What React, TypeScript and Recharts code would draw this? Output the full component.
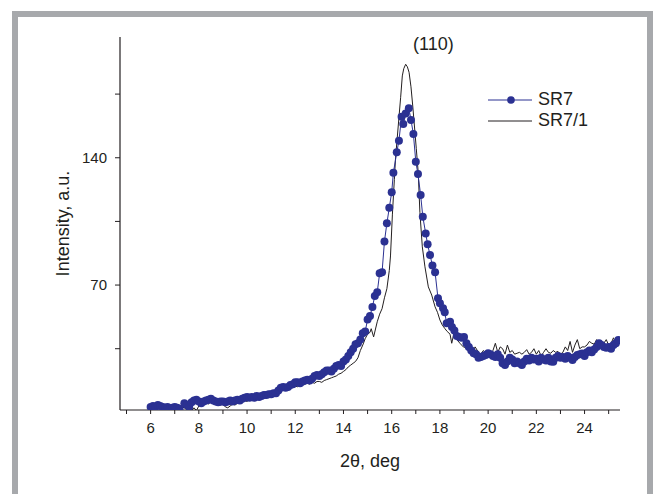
import { LineChart, Line, XAxis, YAxis } from 'recharts'

// SR7 – measured points (2θ, intensity)
const SR7_X = [
  6.0, 6.1, 6.2, 6.3, 6.4, 6.5, 6.6, 6.7, 6.8, 6.9, 7.0, 7.1, 7.2, 7.4, 7.5, 7.6, 7.7, 7.8, 7.9, 8.0,
  8.1, 8.2, 8.3, 8.4, 8.5, 8.6, 8.7, 8.8, 8.9, 9.0, 9.1, 9.2, 9.3, 9.4, 9.5, 9.6, 9.7, 9.8, 9.9, 10.0,
  10.1, 10.2, 10.3, 10.4, 10.5, 10.6, 10.7, 10.8, 10.9, 11.0, 11.1, 11.2, 11.3, 11.4, 11.5, 11.6, 11.7, 11.8, 11.9, 12.0,
  12.1, 12.2, 12.3, 12.4, 12.5, 12.6, 12.7, 12.8, 12.9, 13.0, 13.1, 13.2, 13.3, 13.4, 13.5, 13.6, 13.7, 13.8, 13.9, 14.0,
  14.1, 14.2, 14.3, 14.4, 14.5, 14.6, 14.7, 14.8, 14.9, 15.0, 15.1, 15.2, 15.3, 15.4, 15.5, 15.6, 15.7, 15.8, 15.9, 16.0,
  16.07, 16.21, 16.3, 16.41, 16.48, 16.58, 16.71, 16.8, 16.9, 17.0, 17.09, 17.2, 17.29, 17.41, 17.49, 17.59, 17.69, 17.8, 17.92, 18.0,
  18.13, 18.2, 18.28, 18.42, 18.5, 18.6, 18.7, 18.8, 18.9, 19.0, 19.1, 19.2, 19.3, 19.4, 19.5, 19.6, 19.7, 19.8, 19.9, 20.0,
  20.1, 20.2, 20.3, 20.4, 20.5, 20.6, 20.7, 20.8, 20.9, 21.0, 21.1, 21.2, 21.3, 21.4, 21.5, 21.6, 21.7, 21.8, 21.9, 22.0,
  22.1, 22.2, 22.3, 22.4, 22.5, 22.6, 22.7, 22.8, 22.9, 23.0, 23.1, 23.2, 23.3, 23.4, 23.5, 23.6, 23.7, 23.8, 23.9, 24.0,
  24.1, 24.2, 24.3, 24.4, 24.5, 24.6, 24.7, 24.8, 24.9, 25.0, 25.1, 25.2, 25.3, 25.4,
]
const SR7_Y = [
  3, 3.5, 3, 4, 3.5, 3, 2.5, 3, 2, 2.5, 3, 2.5, 2, 5, 4, 3, 5.5, 6.5, 7, 6,
  5, 6, 6.5, 7, 7.5, 6.5, 6, 5.5, 6, 6, 5.5, 6, 6.5, 6, 6.5, 7, 6.5, 7.5, 8, 8.5,
  8, 8.5, 8, 9, 8.5, 9, 9.5, 9.5, 10, 10, 10.5, 10.5, 12, 13.5, 14, 13.5, 14, 15, 15.5, 16.5,
  16.5, 16, 17, 17.5, 18, 17.5, 18.5, 20, 20.5, 20, 21, 22, 23, 23, 22.5, 24, 25.5, 26, 25.5, 28,
  29, 31, 33, 35, 37.5, 38, 40, 43.5, 44.5, 51, 53, 58, 64, 66, 76.5, 77, 94, 104, 112.5, 121,
  131.8, 143, 149.4, 162.6, 158.6, 164.4, 167.2, 160.8, 153, 137.8, 131, 119.5, 107.6, 98.4, 92.4, 86.5, 80.8, 77, 62.7, 60,
  57.3, 55, 49, 49.8, 47, 45, 42, 41.5, 41, 41.5, 38, 36, 34, 32.5, 32, 30, 30.5, 31, 31.5, 32.5,
  32, 31, 30.5, 32, 30, 27, 26, 28, 30, 29, 27, 28, 27, 26, 28, 29.5, 28.5, 30, 29, 29.5,
  28, 30, 29, 28.5, 30, 28, 27.8, 30, 31, 30, 30.5, 29.5, 31, 30, 28.8, 30.5, 31.5, 32, 32.4, 31,
  33, 34, 33, 34.5, 36, 38, 37, 36, 35.5, 36, 35, 37, 38, 39.8,
]

// SR7/1 – continuous trace
const SR71_X = [
  6.0, 6.1, 6.2, 6.3, 6.4, 6.5, 6.6, 6.7, 6.8, 6.9, 7.0, 7.1, 7.2, 7.3, 7.4, 7.5, 7.6, 7.7, 7.8, 7.9,
  8.0, 8.1, 8.2, 8.3, 8.4, 8.5, 8.6, 8.7, 8.8, 8.9, 9.0, 9.1, 9.2, 9.3, 9.4, 9.5, 9.6, 9.7, 9.8, 9.9,
  10.0, 10.1, 10.2, 10.3, 10.4, 10.5, 10.6, 10.7, 10.8, 10.9, 11.0, 11.1, 11.2, 11.3, 11.4, 11.5, 11.6, 11.7, 11.8, 11.9,
  12.0, 12.1, 12.2, 12.3, 12.4, 12.5, 12.6, 12.7, 12.8, 12.9, 13.0, 13.1, 13.2, 13.3, 13.4, 13.5, 13.6, 13.7, 13.8, 13.9,
  14.0, 14.1, 14.2, 14.3, 14.4, 14.5, 14.6, 14.7, 14.8, 14.9, 15.0, 15.1, 15.15, 15.25, 15.4, 15.5, 15.6, 15.7, 15.8, 15.9,
  15.95, 16.03, 16.11, 16.16, 16.23, 16.3, 16.37, 16.44, 16.5, 16.58, 16.65, 16.72, 16.8, 16.87, 16.94, 17.02, 17.1, 17.17, 17.27, 17.38,
  17.52, 17.66, 17.8, 17.9, 18.0, 18.1, 18.21, 18.3, 18.42, 18.49, 18.58, 18.7, 18.83, 18.97, 19.1, 19.25, 19.35, 19.46, 19.6, 19.7,
  19.8, 19.9, 20.0, 20.1, 20.2, 20.3, 20.4, 20.5, 20.6, 20.7, 20.8, 20.9, 21.0, 21.1, 21.2, 21.3, 21.4, 21.5, 21.6, 21.7,
  21.8, 21.9, 22.0, 22.1, 22.2, 22.3, 22.4, 22.5, 22.6, 22.7, 22.8, 22.9, 23.0, 23.1, 23.2, 23.3, 23.4, 23.5, 23.6, 23.7,
  23.8, 23.9, 24.0, 24.1, 24.2, 24.3, 24.4, 24.5, 24.6, 24.7, 24.8, 24.9, 25.0, 25.1, 25.2, 25.3, 25.45,
]
const SR71_Y = [
  1.5, 2.5, 2, 3, 2, 1.5, 3, 2, 1, 2.5, 3, 1.5, 2, 3, 2.5, 1.5, 4, 1, 2.5, 1,
  3.5, 5, 4, 5.5, 4.5, 6, 5.5, 6.5, 5, 4, 4.5, 3, 2.5, 3.5, 4.5, 4, 5, 5.5, 6, 6.5,
  6, 7, 7.5, 7, 8, 8.5, 10, 10.5, 9.5, 9, 8.5, 9, 11, 12, 12.5, 12, 13, 12.5, 13.5, 14,
  14.5, 14, 15.5, 15, 15.5, 16, 15.5, 16.5, 16, 17, 17, 16.5, 17.5, 18, 18.5, 19, 19.5, 20, 21, 21.5,
  22.5, 23.5, 25, 26, 27, 28, 30, 34, 37, 40.5, 43, 44, 46, 41.5, 49.8, 54, 57, 63, 68, 78,
  86, 109, 128, 140, 151, 162, 173, 185, 189, 191.4, 190, 187, 179, 169, 158, 145, 132, 110, 91, 80,
  69, 64.5, 58, 55, 50.8, 48, 46, 44.5, 43, 38, 43.4, 40, 38, 36, 35.5, 34.3, 33, 36, 33, 32,
  34, 33, 33.5, 32, 34, 38, 33, 36, 35, 32, 37, 33, 34, 32, 32.5, 33, 32, 33, 34.5, 32,
  33, 35, 32, 34, 31, 33, 35, 33, 32.5, 34, 33, 33.5, 32, 33, 36, 34, 39, 33, 37, 40,
  35, 36, 36, 37, 39, 38, 37.5, 40, 38, 39, 38, 40, 37, 38, 41, 38, 41,
]

const X_TICKS = [5, 6, 7, 8, 9, 10, 11, 12, 13, 14, 15, 16, 17, 18, 19, 20, 21, 22, 23, 24, 25]
const X_LABELS = [6, 8, 10, 12, 14, 16, 18, 20, 22, 24]
const Y_TICKS = [35, 70, 105, 140, 175]
const Y_LABELS = [70, 140]

const sr7 = SR7_X.map((x, i) => ({ x, y: SR7_Y[i] }))
const sr71 = SR71_X.map((x, i) => ({ x, y: SR71_Y[i] }))

const FONT = '"Liberation Sans", Arial, sans-serif'
const NAVY = '#2b3192'
const INK = '#231f20'

function XTick({ x, y, payload }: any) {
  if (!X_LABELS.includes(payload.value)) return <g />
  return (
    <text x={x} y={y} dy={15} textAnchor="middle" fontSize={15} fontFamily={FONT} fill={INK}>
      {payload.value}
    </text>
  )
}

function YTick({ x, y, payload }: any) {
  if (!Y_LABELS.includes(payload.value)) return <g />
  return (
    <text x={x} y={y} dy={5} textAnchor="end" fontSize={15} fontFamily={FONT} fill={INK}>
      {payload.value}
    </text>
  )
}

export default function App() {
  return (
    <div style={{ position: 'relative', width: 654, height: 494, background: '#fff', fontFamily: FONT, overflow: 'hidden' }}>
      <style>{'body{margin:0;overflow:hidden}'}</style>
      {/* frame */}
      <div
        style={{
          position: 'absolute',
          left: 12,
          top: 11,
          width: 629,
          height: 494,
          borderLeft: '6px solid #a7a9ac',
          borderTop: '6px solid #a7a9ac',
          borderRight: '6px solid #a7a9ac',
        }}
      />
      <LineChart width={654} height={494} margin={{ top: 37, right: 34, bottom: 34, left: 60 }}>
        <XAxis
          dataKey="x"
          type="number"
          domain={[4.73, 25.47]}
          allowDataOverflow
          ticks={X_TICKS}
          interval={0}
          tick={<XTick />}
          tickSize={4}
          tickMargin={4}
          axisLine={{ stroke: INK, strokeWidth: 1.2 }}
          tickLine={{ stroke: INK }}
          height={50}
          label={{ value: '2θ, deg', position: 'insideBottom', offset: -7, fontSize: 18, fontFamily: FONT, fill: INK }}
        />
        <YAxis
          dataKey="y"
          type="number"
          domain={[1.3, 206.4]}
          allowDataOverflow
          ticks={Y_TICKS}
          interval={0}
          tick={<YTick />}
          tickSize={5}
          tickMargin={8}
          width={60}
          axisLine={{ stroke: INK, strokeWidth: 1.2 }}
          tickLine={{ stroke: INK }}
          label={{ value: 'Intensity, a.u.', angle: -90, position: 'insideLeft', offset: 0, dx: 3, fontSize: 18, fontFamily: FONT, fill: INK, style: { textAnchor: 'middle' } }}
        />
        <Line
          data={sr71}
          dataKey="y"
          type="linear"
          stroke={INK}
          strokeWidth={1}
          dot={false}
          activeDot={false}
          isAnimationActive={false}
        />
        <Line
          data={sr7}
          dataKey="y"
          type="linear"
          stroke={NAVY}
          strokeWidth={1}
          dot={{ r: 4, fill: NAVY, stroke: 'none' }}
          activeDot={false}
          isAnimationActive={false}
        />
      </LineChart>
      <div style={{ position: 'absolute', left: 413, top: 34, fontSize: 18, color: INK }}>(110)</div>
      <div style={{ position: 'absolute', left: 486, top: 89, fontSize: 18, color: INK, lineHeight: '21px' }}>
        <div style={{ display: 'flex', alignItems: 'center' }}>
          <svg width={48} height={12}>
            <line x1={2} y1={6} x2={46} y2={6} stroke={NAVY} strokeWidth={1} />
            <circle cx={25} cy={6} r={3.8} fill={NAVY} />
          </svg>
          <span style={{ marginLeft: 4 }}>SR7</span>
        </div>
        <div style={{ display: 'flex', alignItems: 'center' }}>
          <svg width={48} height={12}>
            <line x1={2} y1={6} x2={46} y2={6} stroke={INK} strokeWidth={1} />
          </svg>
          <span style={{ marginLeft: 4 }}>SR7/1</span>
        </div>
      </div>
    </div>
  )
}
